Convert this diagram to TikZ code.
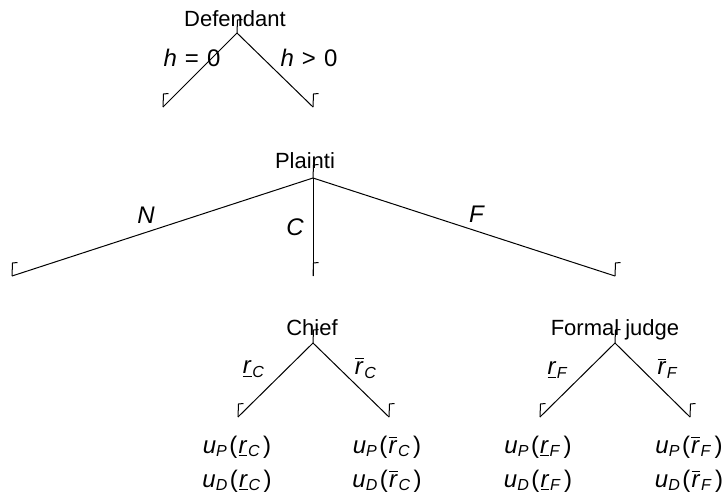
\documentclass[tikz,border=0pt]{standalone}
\usepackage{fontspec}
\setmainfont{Liberation Sans}
\tikzset{%
    branch/.style={black, line width=0.5pt},
    nodemark/.style={black, line width=0.5pt},
    player/.style={inner sep=0pt, anchor=base, font=\fontsize{11}{13}\selectfont},
    move/.style={inner sep=0pt, font=\fontsize{12}{14}\selectfont},
    payoff/.style={inner sep=0pt, anchor=base, font=\fontsize{12}{14}\selectfont}
}
\usetikzlibrary{positioning}
\newcommand{\mv}[1]{\textit{#1}}
\newcommand{\rlow}[1]{\underline{\textit{r}}\kern0.3pt\textsubscript{\textit{#1}}}
\newcommand{\rhigh}[1]{$\overline{\mbox{\textit{r}}}$\kern0.3pt\textsubscript{\textit{#1}}}
\newcommand{\pay}[2]{\mv{u}\textsubscript{\mv{#1}}\kern0.8pt(\kern0.6pt#2\kern1.2pt)}
\begin{document}
\begin{tikzpicture}[x=0.5pt, y=-0.5pt]
    \useasboundingbox (0,0) rectangle (725,493);
    % decision points
    \coordinate (D) at (237,33);
    \coordinate (D0) at (163,107);
    \coordinate (D1) at (313,107);
    \coordinate (P) at (313,178);
    \coordinate (PN) at (12,276);
    \coordinate (PC) at (313,276);
    \coordinate (PF) at (615,276);
    \coordinate (Ch) at (313,343);
    \coordinate (ChL) at (238,417);
    \coordinate (ChR) at (389,417);
    \coordinate (Fj) at (615,343);
    \coordinate (FjL) at (540,417);
    \coordinate (FjR) at (690,417);
    \foreach \n in {D,D0,D1,P,PN,PC,PF,Ch,ChL,ChR,Fj,FjL,FjR}
        \draw[nodemark] (\n) -- ++(0.5,-13) -- ++(5,-0.5);
    % branches
    \draw[branch] (D) -- (D0);
    \draw[branch] (D) -- (D1);
    \draw[branch] (P) -- (PN);
    \draw[branch] (P) -- (PC);
    \draw[branch] (P) -- (PF);
    \draw[branch] (Ch) -- (ChL);
    \draw[branch] (Ch) -- (ChR);
    \draw[branch] (Fj) -- (FjL);
    \draw[branch] (Fj) -- (FjR);
    % players
    \node[player] (defendant) at (235,26) {Defendant};
    \node[player] (plaintiff) at (305,168) {Plainti};
    \node[player] (chief) at (312,335) {Chief};
    \node[player] (judge) at (615,335) {Formal judge};
    % moves
    \node[move] (hzero) at (192,58) {\mv{h}\hspace{4pt}=\hspace{4pt}0};
    \node[move] (hpos) at (309,58) {\mv{h}\hspace{4pt}>\hspace{4pt}0};
    \node[move] (mN) at (146,215) {\mv{N}};
    \node[move] (mC) at (295,227) {\mv{C}};
    \node[move] (mF) at (477,214) {\mv{F}};
    \node[move] (rCl) at (254,369) {\rlow{C}};
    \node[move] (rCh) at (366,368) {\rhigh{C}};
    \node[move] (rFl) at (558,370) {\rlow{F}};
    \node[move] (rFh) at (668,368) {\rhigh{F}};
    % payoffs
    \node[payoff] (uPCl) at (237,453) {\pay{P}{\rlow{C}}};
    \node[payoff] (uDCl) at (237,487) {\pay{D}{\rlow{C}}};
    \node[payoff] (uPCh) at (387,453) {\pay{P}{\rhigh{C}}};
    \node[payoff] (uDCh) at (387,487) {\pay{D}{\rhigh{C}}};
    \node[payoff] (uPFl) at (538,453) {\pay{P}{\rlow{F}}};
    \node[payoff] (uDFl) at (538,487) {\pay{D}{\rlow{F}}};
    \node[payoff] (uPFh) at (689,453) {\pay{P}{\rhigh{F}}};
    \node[payoff] (uDFh) at (689,487) {\pay{D}{\rhigh{F}}};
\end{tikzpicture}
\end{document}
